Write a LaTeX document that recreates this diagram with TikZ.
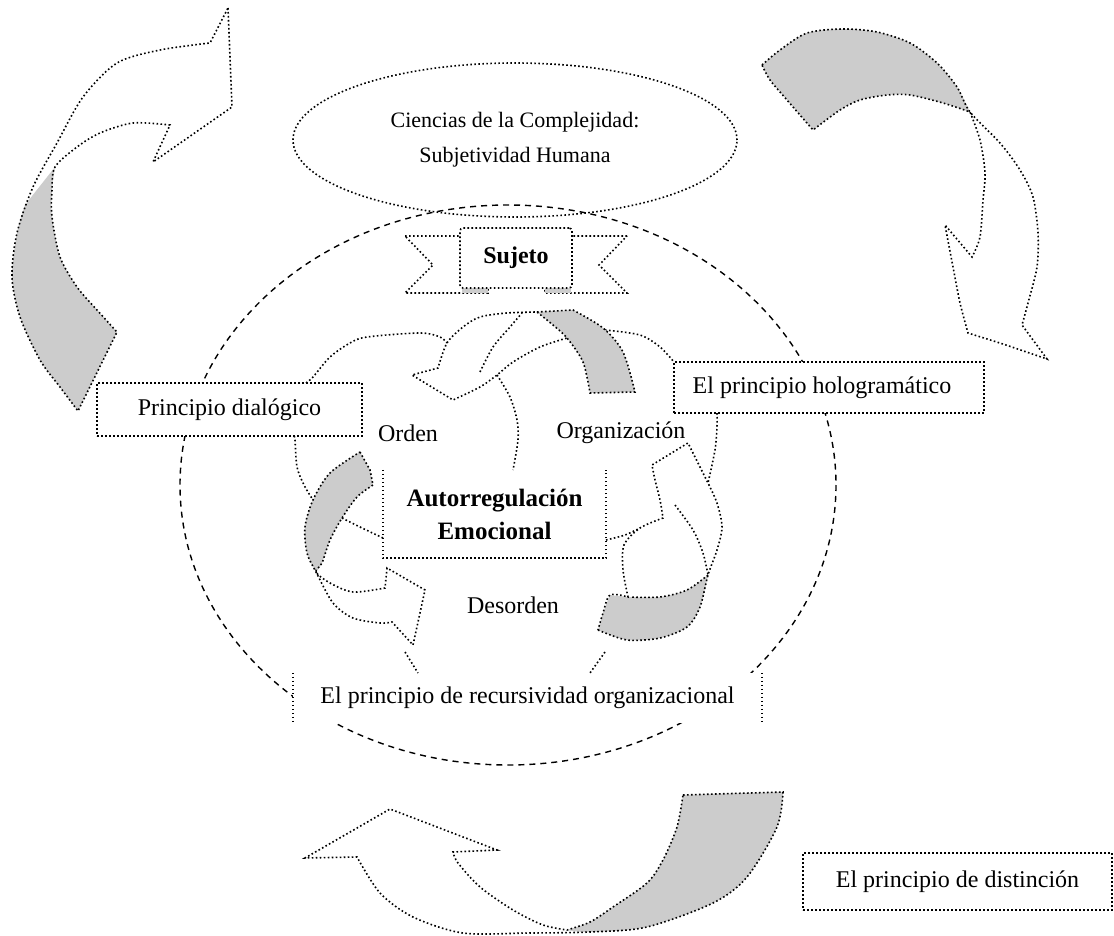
\documentclass[tikz,border=0pt]{standalone}
\usepackage{fontspec}
\setmainfont{Liberation Serif}
\usetikzlibrary{positioning,calc,shapes.geometric}
\tikzset{
    every picture/.style={line width=0.5pt},
    dotline/.style={line width=1.6pt,dash pattern=on 1.6pt off 2.4pt},
    dashline/.style={line width=1.4pt,dash pattern=on 6pt off 5pt},
    shade/.style={fill=black!20},
    txt/.style={font=\fontsize{24}{28}\selectfont,inner sep=0pt},
    boldtxt/.style={font=\bfseries\fontsize{25}{33}\selectfont,inner sep=0pt,align=center},
    box/.style={draw,dotline,fill=white,inner sep=0pt,font=\fontsize{24}{28}\selectfont}
}
\begin{document}
\begin{tikzpicture}[x=1pt,y=-1pt]
        \useasboundingbox (0,0) rectangle (1114,936);
        \fill[white] (0,0) rectangle (1114,936);

        % Outer ring
        \draw[dashline] (508,485) ellipse [x radius=328,y radius=280];

        % Ciencias
        \node[ellipse,draw,dotline,minimum width=444,minimum height=154,inner sep=0pt,align=center,
              font=\fontsize{22}{35}\selectfont] (ciencias) at (515,140) {Ciencias de la Complejidad:\\Subjetividad Humana};

        % Sujeto ribbon
        \draw[dotline,fill=white] (405,236) -- (488,236) -- (488,293) -- (405,293) -- (433,265) -- cycle;
        \draw[dotline,fill=white] (627,236) -- (545,236) -- (545,293) -- (627,293) -- (599,265) -- cycle;
        \fill[shade] (462,288) rectangle (488,293);
        \fill[shade] (545,288) rectangle (571,293);
        \node[box,rounded corners=3pt,minimum width=112,minimum height=60,
              font=\bfseries\fontsize{24}{28}\selectfont] (sujeto) at (516,258) {Sujeto};

        % Big arrow top left
        \fill[shade] plot[smooth] coordinates {(55,167) (52,190) (52,217) (60,257) (77,287) (97,310) (117,332)} -- (78,411)
            -- plot[smooth] coordinates {(78,411) (60,387) (40,360) (20,317) (12,277) (17,233) (25,205)} -- cycle;
        \draw[dotline] (228,8) -- (232,107) -- (153,162) -- (170,125)
            -- plot[smooth] coordinates {(170,125) (133,123) (100,133) (77,147) (55,167) (52,190) (52,217) (60,257) (77,287) (97,310) (117,332)}
            -- (78,411)
            -- plot[smooth] coordinates {(78,411) (60,387) (40,360) (20,317) (12,277) (17,233) (33,187) (57,143) (83,97) (117,63) (160,50) (210,43)}
            -- cycle;

        % Big arrow top right
        \fill[shade] plot[smooth] coordinates {(762,65) (780,50) (807,33) (843,29) (877,32) (910,43) (937,63) (957,87) (970,112)}
            -- plot[smooth] coordinates {(970,112) (943,103) (910,95) (887,95) (860,100) (840,110) (813,130)}
            -- plot[smooth] coordinates {(813,130) (787,100) (770,80) (762,65)} -- cycle;
        \draw[dotline] plot[smooth] coordinates {(762,65) (780,50) (807,33) (843,29) (877,32) (910,43) (937,63) (957,87) (970,112) (1000,143) (1020,170) (1033,197) (1038,233) (1037,267) (1028,303) (1022,325)}
            -- (1047,359) -- (1003,344) -- (968,333)
            -- plot[smooth] coordinates {(968,333) (960,303) (953,267) (945,225)}
            -- (972,257)
            -- plot[smooth] coordinates {(972,257) (980,237) (983,200) (985,173) (980,140) (970,112)}
            -- plot[smooth] coordinates {(970,112) (943,103) (910,95) (887,95) (860,100) (840,110) (813,130)}
            -- plot[smooth] coordinates {(813,130) (787,100) (770,80) (762,65)} -- cycle;

        % Big arrow bottom
        \fill[shade] (683,795) -- (783,792)
            -- plot[smooth] coordinates {(783,792) (777,827) (747,877) (713,903) (647,927) (590,932) (567,930)}
            -- plot[smooth] coordinates {(567,930) (590,922) (613,907) (647,883) (663,860) (677,827) (683,795)} -- cycle;
        \draw[dotline] (683,795) -- (783,792)
            -- plot[smooth] coordinates {(783,792) (777,827) (747,877) (713,903) (647,927) (590,932) (530,933) (463,933) (413,917) (380,893) (357,857)}
            -- (305,858) -- (390,809) -- (497,850) -- (453,852)
            -- plot[smooth] coordinates {(453,852) (458,863) (480,887) (513,910) (543,925) (567,930)}
            -- plot[smooth] coordinates {(567,930) (590,922) (613,907) (647,883) (663,860) (677,827) (683,795)} -- cycle;

        % Middle ring
        \draw[dotline] plot[smooth] coordinates {(306,383) (313,377) (330,357) (350,343) (367,337) (420,333) (440,337) (447,343)};
        \draw[dotline] plot[smooth] coordinates {(605,330) (640,335) (660,347) (674,362)};
        \draw[dotline] plot[smooth] coordinates {(717,413) (717,427) (715,450) (708,483)};
        \draw[dotline] plot[smooth] coordinates {(294,436) (295,440) (297,467) (304,485) (313,500)};

        % Inner arrow top
        \fill[shade] (537,312) -- (573,310) -- plot[smooth] coordinates {(573,310) (603,328) (623,352) (635,392)} -- (590,393)
            -- plot[smooth] coordinates {(590,393) (583,362) (567,338) (553,325) (537,312)} -- cycle;
        \draw[dotline] (537,312) -- (573,310) -- plot[smooth] coordinates {(573,310) (603,328) (623,352) (635,392)} -- (590,393)
            -- plot[smooth] coordinates {(590,393) (583,362) (567,338) (553,325) (537,312)}
            -- plot[smooth] coordinates {(537,312) (507,313) (480,317) (463,327) (447,343) (438,368)}
            -- (412,375) -- (453,400)
            -- plot[smooth] coordinates {(453,400) (480,387) (497,375) (513,362) (540,347) (567,338)};
        \draw[dotline] plot[smooth] coordinates {(480,372) (493,347) (510,327) (522,313)};

        % Inner arrow left
        \fill[shade] (360,452) -- (370,470) -- (373,485)
            -- plot[smooth] coordinates {(373,485) (357,497) (342,518) (330,540) (322,563) (316,572)}
            -- plot[smooth] coordinates {(316,572) (307,553) (305,527) (313,500) (330,473) (360,452)} -- cycle;
        \draw[dotline] (360,452) -- (370,470) -- (373,485)
            -- plot[smooth] coordinates {(373,485) (357,497) (342,518) (330,540) (322,563) (316,572) (330,583) (353,592) (385,588)}
            -- (387,568) -- (425,590) -- (413,645) -- (392,622)
            -- plot[smooth] coordinates {(392,622) (380,623) (353,618) (333,603) (316,572) (307,553) (305,527) (313,500) (330,473) (360,452)};

        % Inner arrow right
        \fill[shade] plot[smooth] coordinates {(598,630) (627,640) (660,638) (687,627) (700,607) (708,575)}
            -- plot[smooth] coordinates {(708,575) (687,590) (660,597) (630,597) (610,595)}
            -- plot[smooth] coordinates {(610,595) (603,613) (598,630)} -- cycle;
        \draw[dotline] plot[smooth] coordinates {(598,630) (627,640) (660,638) (687,627) (700,607) (708,575) (717,550) (722,527) (717,503) (708,483)}
            -- (688,443) -- (652,465)
            -- plot[smooth] coordinates {(652,465) (655,480) (660,500) (663,518)}
            -- plot[smooth] coordinates {(663,518) (640,528) (624,545) (623,570) (628,597)}
            -- plot[smooth] coordinates {(628,597) (610,595) (603,613) (598,630)};
        \draw[dotline] plot[smooth] coordinates {(708,575) (687,590) (660,597) (630,597)};
        \draw[dotline] plot[smooth] coordinates {(675,505) (693,530) (703,553) (708,575)};

        % Boxes
        \node[box,minimum width=265,minimum height=53] (dialogico) at (229.5,409.5) {Principio dialógico};
        \node[box,minimum width=310,minimum height=51] (holo) at (829,387.5) {\hspace*{-14pt}El principio hologramático};
        \node[box,minimum width=309,minimum height=57] (distincion) at (957.5,881.5) {El principio de distinción};
        \node[boldtxt,fill=white,minimum width=223,minimum height=88] (autorreg) at (494.5,514) {Autorregulación\\Emocional};
        \draw[dotline] (autorreg.north west) -- (autorreg.south west) -- (autorreg.south east) -- (autorreg.north east);
        \node[txt,fill=white,minimum width=469,minimum height=50] (recursiv) at (527.5,698) {El principio de recursividad organizacional};
        \draw[dotline] (recursiv.north west) -- (recursiv.south west) (recursiv.north east) -- (recursiv.south east);

        % Links into the boxes
        \draw[dotline] plot[smooth] coordinates {(497,375) (510,397) (517,420) (518,440) (513,470)};
        \draw[dotline] plot[smooth] coordinates {(342,518) (360,527) (383,538)};
        \draw[dotline] plot[smooth] coordinates {(606,540) (625,535) (640,528)};
        \draw[dotline] (405,652) -- (418,673);
        \draw[dotline] (605,652) -- (590,673);

        % Labels
        \node[txt] (orden) at (408,433) {Orden};
        \node[txt] (organiza) at (621,433) {Organización};
        \node[txt] (desorden) at (513,605) {Desorden};
    \end{tikzpicture}
\end{document}
